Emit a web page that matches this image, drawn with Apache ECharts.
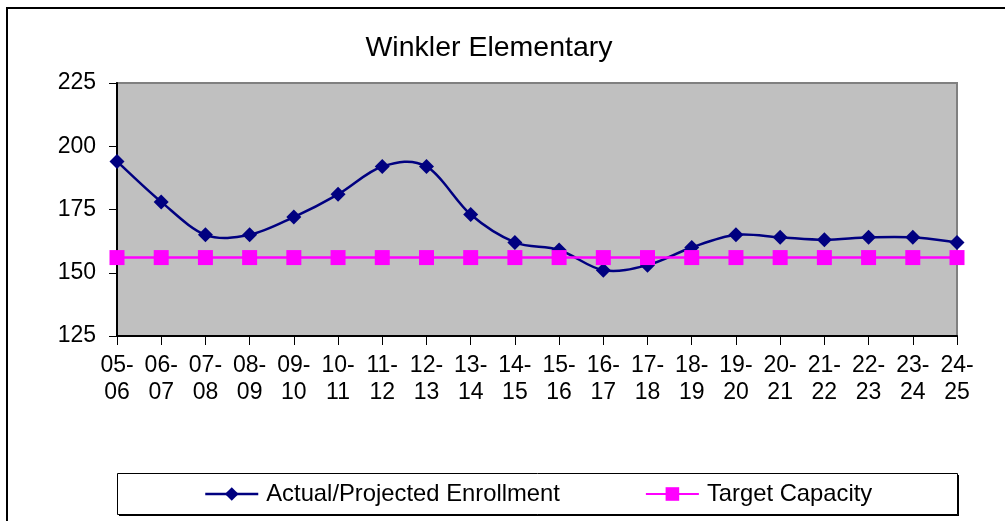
<!DOCTYPE html>
<html>
<head>
<meta charset="utf-8">
<script src="https://cdn.jsdelivr.net/npm/echarts@6/dist/echarts.min.js"></script>
<style>
html,body{margin:0;padding:0;background:#fff;}
#chart{width:1005px;height:521px;}
</style>
</head>
<body>
<div id="chart"></div>
<script>
const titleText = 'Winkler Elementary';
const categories = ['05-\n06','06-\n07','07-\n08','08-\n09','09-\n10','10-\n11','11-\n12','12-\n13','13-\n14','14-\n15','15-\n16','16-\n17','17-\n18','18-\n19','19-\n20','20-\n21','21-\n22','22-\n23','23-\n24','24-\n25'];
const enrollmentName = 'Actual/Projected Enrollment';
const enrollment = [194,178,165,165,172,181,192,192,173,162,159,151,153,160,165,164,163,164,164,162];
const targetName = 'Target Capacity';
const target = [156,156,156,156,156,156,156,156,156,156,156,156,156,156,156,156,156,156,156,156];
const yMin = 125, yMax = 225, yStep = 25;

const font = 'Liberation Sans, Arial, sans-serif';
const navy = '#000080', magenta = '#ff00ff';

// Excel-like smoothed curve (Catmull-Rom bezier) drawn through the axis scales
function renderCurve(params, api) {
  const i = params.dataIndex;
  const n = enrollment.length;
  if (i >= n - 1) return null;
  const idx = k => Math.max(0, Math.min(n - 1, k));
  const p0 = api.coord([idx(i - 1), enrollment[idx(i - 1)]]);
  const p1 = api.coord([i, enrollment[i]]);
  const p2 = api.coord([i + 1, enrollment[i + 1]]);
  const p3 = api.coord([idx(i + 2), enrollment[idx(i + 2)]]);
  const t = 1 / 6;
  const c1 = [p1[0] + (p2[0] - p0[0]) * t, p1[1] + (p2[1] - p0[1]) * t];
  const c2 = [p2[0] - (p3[0] - p1[0]) * t, p2[1] - (p3[1] - p1[1]) * t];
  return {
    type: 'bezierCurve',
    shape: {x1: p1[0], y1: p1[1], x2: p2[0], y2: p2[1], cpx1: c1[0], cpy1: c1[1], cpx2: c2[0], cpy2: c2[1]},
    style: {stroke: navy, lineWidth: 2.5, fill: null},
    silent: true
  };
}

const chart = echarts.init(document.getElementById('chart'), null, {renderer:'canvas'});
chart.setOption({
  animation:false,
  backgroundColor:'#ffffff',
  title:{
    text:titleText, left:484, top:29, textAlign:'center',
    textStyle:{fontFamily:font, fontSize:28.5, fontWeight:'normal', color:'#000'}
  },
  graphic:[
    {type:'rect', left:6, top:7, z:-10, shape:{width:1100, height:600},
     style:{fill:'#ffffff', stroke:'#000', lineWidth:2}},
    {type:'rect', left:119, top:475, z:-6, shape:{width:840, height:41},
     style:{fill:'#000'}},
    {type:'rect', left:117, top:473, z:-5, shape:{width:840, height:41},
     style:{fill:'#ffffff', stroke:'#000', lineWidth:1}}
  ],
  legend:{
    left:204, top:482, padding:0, itemWidth:53, itemHeight:17, itemGap:85,
    textStyle:{fontFamily:font, fontSize:23.8, color:'#000', padding:[0,0,0,3]},
    data:[
      {name:enrollmentName, lineStyle:{opacity:1, color:navy, width:2.5}},
      {name:targetName}
    ]
  },
  grid:{left:117, top:83, right:48, bottom:185, show:true, backgroundColor:'#c0c0c0', borderColor:'#808080', borderWidth:2},
  xAxis:{
    type:'category', data:categories, boundaryGap:false,
    axisLine:{lineStyle:{color:'#000', width:2}},
    axisTick:{show:true, length:9, lineStyle:{color:'#000', width:1}, alignWithLabel:true},
    axisLabel:{fontFamily:font, fontSize:23, color:'#000', lineHeight:27, margin:16, interval:0}
  },
  yAxis:{
    type:'value', min:yMin, max:yMax, interval:yStep,
    axisLine:{show:true, lineStyle:{color:'#000', width:2}},
    axisTick:{show:true, length:8, lineStyle:{color:'#000', width:1}},
    splitLine:{show:false},
    axisLabel:{fontFamily:font, fontSize:23, color:'#000', margin:21}
  },
  series:[
    {name:'curve', type:'custom', coordinateSystem:'cartesian2d', renderItem:renderCurve,
     data:enrollment.map((v, i) => [i, v]), z:2, silent:true},
    {name:enrollmentName, type:'line', data:enrollment, z:3,
     symbol:'diamond', symbolSize:15, itemStyle:{color:navy},
     lineStyle:{color:navy, width:2.5, opacity:0}},
    {name:targetName, type:'line', data:target, z:4,
     symbol:'rect', symbolSize:15, itemStyle:{color:magenta},
     lineStyle:{color:magenta, width:2.5}}
  ]
});
</script>
</body>
</html>
